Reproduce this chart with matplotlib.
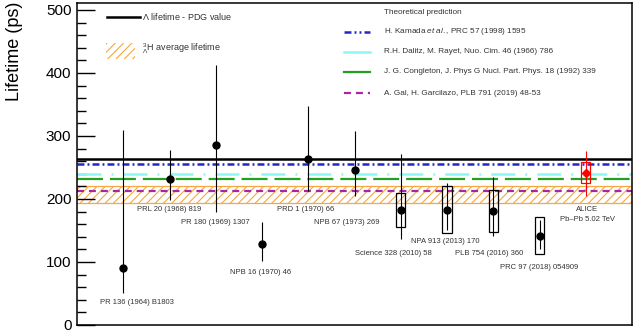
import matplotlib
matplotlib.use("Agg")
import matplotlib.pyplot as plt
from matplotlib.patches import Rectangle
import numpy as np

plt.rcParams['font.family'] = ['Liberation Sans', 'DejaVu Sans']
plt.rcParams['mathtext.fontset'] = 'custom'
plt.rcParams['mathtext.rm'] = 'Liberation Sans'
plt.rcParams['mathtext.it'] = 'Liberation Sans:italic'
plt.rcParams['hatch.linewidth'] = 0.8
plt.rcParams['lines.scale_dashes'] = False

# ---------------- data ----------------
labels = ["PR 136 (1964) B1803", "PRL 20 (1968) 819", "PR 180 (1969) 1307",
          "NPB 16 (1970) 46", "PRD 1 (1970) 66", "NPB 67 (1973) 269",
          "Science 328 (2010) 58", "NPA 913 (2013) 170", "PLB 754 (2016) 360",
          "PRC 97 (2018) 054909"]
values = [90, 232, 285, 128, 264, 246, 182, 183, 181, 142]
err_up = [220, 45, 127, 35, 84, 62, 89, 42, 54, 24]
err_lo = [40, 34, 105, 26, 52, 41, 45, 32, 39, 21]
syst = [None, None, None, None, None, None, 27, 37, 33, 29]

alice_value = 242
alice_up = 34
alice_lo = 38
alice_syst = 17

pdg_lambda = 263.2
kamada = 256
dalitz = 239
congleton = 232
gal = 213
avg_lo, avg_hi = 194, 221

# label positions (x, y in data units)
label_x = [1.30, 1.99, 3.0, 3.96, 4.95, 5.84, 6.83, 7.96, 8.91, 9.99]
label_y = [35, 183, 163, 83, 183, 163, 113, 133, 113, 92]

# ---------------- figure ----------------
fig = plt.figure(figsize=(6.33, 3.31), dpi=100)
ax = fig.add_axes([77/633, 6/331, 555/633, 322/331])
ax.set_xlim(0, 12)
ax.set_ylim(0, 511)

orange = '#f5a742'
blue = '#2626c4'
cyan = '#8cf7f7'
green = '#22a022'
purple = '#a626a6'
txtc = '#333333'

# band
ax.add_patch(Rectangle((0, avg_lo), 12, avg_hi - avg_lo, facecolor='none',
                       edgecolor=orange, hatch='////', linewidth=0, zorder=1))
ax.axhline(avg_lo, color=orange, lw=0.9, zorder=1)
ax.axhline(avg_hi, color=orange, lw=0.9, zorder=1)

ax.axhline(pdg_lambda, color='black', lw=1.8, zorder=2)
ax.axhline(kamada, color=blue, lw=1.8, dashes=(5, 2.2, 1.4, 2.2), zorder=2)
ax.axhline(dalitz, color=cyan, lw=1.8, dashes=(17.3, 7.2, 1.4, 7.2), zorder=2)
ax.axhline(congleton, color=green, lw=1.6, dashes=(18.7, 5), zorder=2)
ax.axhline(gal, color=purple, lw=1.6, dashes=(5, 3.6), zorder=2)

xs = np.arange(1, len(values) + 1)
bw = 0.2
for i, (x, v) in enumerate(zip(xs, values)):
    ax.errorbar([x], [v], yerr=[[err_lo[i]], [err_up[i]]], fmt='o', color='black',
                ms=5, elinewidth=0.8, capsize=0, zorder=5)
    if syst[i] is not None:
        ax.add_patch(Rectangle((x - bw/2, v - syst[i]), bw, 2*syst[i],
                               facecolor='none', edgecolor='black', lw=0.9, zorder=4))
    ax.text(label_x[i], label_y[i], labels[i], fontsize=5.5, ha='center', va='center',
            color=txtc)

# ALICE
xa = len(values) + 1
ax.errorbar([xa], [alice_value], yerr=[[alice_lo], [alice_up]], fmt='D', color='red',
            ms=4.5, elinewidth=0.8, capsize=0, zorder=6)
ax.add_patch(Rectangle((xa - bw/2, alice_value - alice_syst), bw, 2*alice_syst,
                       facecolor='none', edgecolor='red', lw=0.9, zorder=6))
ax.text(11.03, 183, "ALICE", fontsize=5.5, ha='center', va='center', color=txtc)
ax.text(11.03, 167, "Pb\u2013Pb 5.02 TeV", fontsize=5.5, ha='center', va='center',
        color=txtc)

# axes styling
ax.set_xticks([])
ax.set_yticks([0, 100, 200, 300, 400, 500])
ax.set_yticks(np.arange(0, 511, 20), minor=True)
ax.tick_params(axis='y', which='major', direction='in', length=13, width=1.0,
               labelsize=11, pad=4)
ax.tick_params(axis='y', which='minor', direction='in', length=6.5, width=1.0)
ax.tick_params(axis='y', right=False)
for s in ax.spines.values():
    s.set_linewidth(1.1)
ax.text(-0.112, 0.85, "Lifetime (ps)", fontsize=13, rotation=90, ha='center',
        va='center', transform=ax.transAxes)

# legend 1
T = ax.transAxes
ax.plot([0.054, 0.114], [0.957, 0.957], color='black', lw=1.8, transform=T)
ax.text(0.117, 0.957, r"$\Lambda$ lifetime - PDG value", fontsize=6.5, va='center',
        transform=T, color=txtc)
ax.add_patch(Rectangle((0.052, 0.826), 0.053, 0.05, transform=T, facecolor='none',
                       edgecolor=orange, hatch='////', lw=0))
ax.text(0.117, 0.858, r"$^{3}_{\Lambda}$H average lifetime", fontsize=6.5, va='center',
        transform=T, color=txtc)

# legend 2
ax.text(0.553, 0.969, "Theoretical prediction", fontsize=5.9, va='center',
        transform=T, color=txtc)
leg_y = [0.910, 0.848, 0.786, 0.720]
leg_txt = [r"H. Kamada$\ \it{et\ al.}$, PRC 57 (1998) 1595",
           "R.H. Dalitz, M. Rayet, Nuo. Cim. 46 (1966) 786",
           "J. G. Congleton, J. Phys G Nucl. Part. Phys. 18 (1992) 339",
           "A. Gal, H. Garcilazo, PLB 791 (2019) 48-53"]
ax.plot([0.481, 0.528], [leg_y[0]]*2, color=blue, lw=1.8, dashes=(5, 2.2, 1.4, 2.2, 1.4, 2.2), transform=T)
ax.plot([0.481, 0.528], [leg_y[1]]*2, color=cyan, lw=1.8, transform=T)
ax.plot([0.481, 0.528], [leg_y[2]]*2, color=green, lw=1.6, transform=T)
ax.plot([0.481, 0.528], [leg_y[3]]*2, color=purple, lw=1.6, dashes=(5, 3.6), transform=T)
for y, t in zip(leg_y, leg_txt):
    ax.text(0.553, y, t, fontsize=5.9, va='center', transform=T, color=txtc)

fig.savefig("out.png", dpi=100)
